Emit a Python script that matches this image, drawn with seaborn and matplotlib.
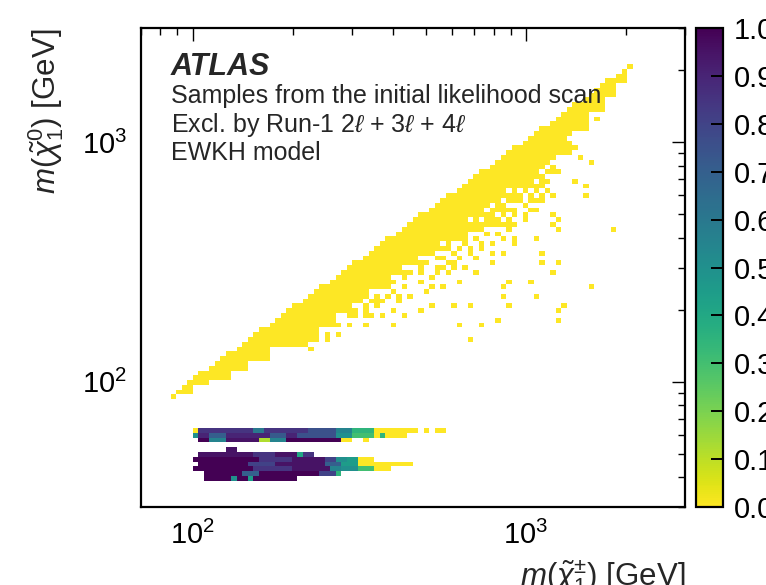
import numpy as np
import pandas as pd
import matplotlib
matplotlib.use("Agg")
import matplotlib.pyplot as plt
from matplotlib.ticker import NullFormatter, LogLocator
import seaborn as sns

# ------------------------------------------------------------------ data
# Dense diagonal wedge: lower edge of the filled yellow region (GeV),
# read at a set of chargino masses; its upper edge follows the diagonal.
band_mchi = [86, 95, 104.5, 120, 138, 158, 182, 209, 230, 257, 285, 316,
             360, 418, 465, 514, 570, 632, 700, 778, 860, 958, 1060, 1179,
             1310, 1451, 1610, 1786, 1920, 2060]
band_floor = [85, 89, 97, 104, 114, 120, 138, 142, 150, 165, 190, 220,
              245, 280, 305, 330, 360, 395, 430, 460, 510, 575, 650, 740,
              880, 1100, 1340, 1583, 1800, 1990]

# Empty cells (holes) inside the dense wedge (chargino, neutralino)
hole_mchi = [430, 480, 520, 560, 600, 650, 690, 720, 760, 800, 850, 900,
             950, 1000, 1050, 1100, 1150, 1200, 1250, 1300, 1350, 620, 740,
             880, 980, 1080]
hole_mlsp = [300, 330, 350, 380, 430, 440, 480, 470, 520, 540, 560, 620,
             640, 680, 700, 760, 800, 820, 900, 950, 1020, 400, 470,
             540, 610, 700]

# Lacy cells just below the dense wedge (chargino, neutralino)
lace_mchi = [230, 250, 250, 270, 270, 290, 290, 290, 305, 305, 305,
             330, 330, 330, 345, 345, 345, 360, 360, 375, 375, 375,
             390, 390, 405, 405, 405, 420, 420, 420, 440, 440, 440, 440,
             455, 455, 455, 475, 475, 475, 475, 495, 495, 495, 495,
             515, 515, 515, 535, 535, 535, 535, 555, 555, 555, 555,
             580, 580, 580, 580, 600, 600, 600, 600, 625, 625, 625, 625,
             650, 650, 650, 650, 675, 675, 675, 675, 700, 700, 700, 700,
             725, 725, 725, 750, 750, 750, 780, 780, 780, 810, 810, 810,
             840, 840, 840, 840, 870, 870, 870, 900, 900, 900, 930, 930,
             930, 960, 1000, 1000, 1000, 1040, 1040, 1080, 1080, 1120,
             1120, 1160, 1200, 1200, 1250, 1300, 1350,
             520, 540, 560, 560, 590, 590, 610, 610, 640, 640, 660, 660,
             690, 690, 710, 710, 740, 740, 760, 760, 790, 790, 820, 820,
             850, 850, 880, 880, 910, 910, 940, 940, 980, 980, 1020, 1020,
             1060, 1100, 1100, 1140, 1180, 1220, 1260]
lace_mlsp = [138, 150, 158, 160, 176, 170, 190, 205, 185, 200, 215,
             175, 200, 210, 190, 220, 250, 205, 230, 190, 215, 245,
             225, 255, 200, 240, 265, 215, 230, 285, 245, 270, 310, 325,
             225, 290, 335, 260, 280, 300, 355, 240, 320, 370, 385,
             270, 345, 390, 300, 330, 410, 430, 250, 360, 400, 450,
             280, 380, 420, 470, 320, 350, 440, 480, 260, 400, 460, 500,
             300, 380, 420, 520, 340, 450, 540, 565, 290, 400, 480, 590,
             360, 510, 600, 420, 460, 630, 310, 380, 530, 450, 570, 640,
             400, 500, 600, 670, 350, 540, 700, 450, 600, 730, 380, 520,
             650, 580, 500, 620, 700, 560, 680, 520, 720, 600,
             780, 680, 740, 800, 900, 950, 1000,
             250, 280, 300, 330, 310, 360, 300, 390, 330, 360, 400, 440,
             360, 430, 330, 460, 380, 500, 410, 540, 350, 450, 420, 480,
             460, 520, 430, 480, 400, 500, 450, 560, 480, 540, 520, 600,
             580, 560, 650, 640, 700, 600, 760]

# Isolated yellow cells further below the wedge (chargino, neutralino)
sparse_mchi = [205, 236, 251, 251, 270, 270, 295, 317, 329, 355, 368, 402,
               432, 489, 524, 611, 639, 680, 680, 732, 818, 875, 860, 860,
               882, 1043, 1074, 1061, 1074, 1101, 1129, 1231, 1231, 1246,
               1216, 1252, 1293, 1252, 1564, 1829, 1157, 1231, 1393, 1445,
               1393, 1500, 1500, 1557, 1616, 1740, 1806, 1152, 1229, 1201,
               1201]
sparse_mlsp = [160, 158, 201, 190, 209, 200, 193, 213, 193, 221, 193, 175,
               193, 196, 206, 203, 175, 209, 147, 173, 184, 266, 254, 231,
               206, 266, 231, 391, 614, 344, 308, 475, 431, 308,
               280, 200, 206, 178, 254, 424, 917, 756, 947, 860,
               676, 644, 594, 820, 1264, 1568, 1568, 888, 745, 490,
               460]

# Higgs-funnel strip: neutralino mass of each row and runs of
# (chargino from, chargino to, excluded fraction)
higgs_rows = [63.8, 60.8, 57.8]
higgs_runs = [
    [(100, 103.5, 0.0), (103.5, 150, 0.85), (150, 165, 0.6), (165, 225, 0.85),
     (225, 265, 0.75), (265, 305, 0.55), (305, 347, 0.35), (347, 452, 0.0),
     (458, 472, 0.0), (492, 512, 0.0), (528, 565, 0.0)],
    [(100, 104, 0.5), (104, 113, 0.9), (113, 127, 0.7), (127, 171, 0.9),
     (171, 190, 0.72), (190, 206, 0.9), (206, 265, 0.75), (265, 298, 0.5),
     (298, 347, 0.3), (347, 363, 0.0), (363, 376, 0.35), (376, 440, 0.0)],
    [(104, 113, 1.0), (113, 127, 0.55), (127, 160, 0.95), (160, 168, 0.12),
     (168, 188, 0.55), (188, 280, 1.0), (284, 296, 0.0), (322, 336, 0.0)],
]

# Z-funnel strip
z_rows = [52.2, 49.8, 47.5, 45.2, 43.1, 41.2, 39.5]
z_runs = [
    [(128, 135, 0.95)],
    [(104, 150, 0.95), (150, 175, 0.85), (175, 205, 0.95), (205, 215, 0.4),
     (215, 228, 0.85)],
    [(100, 160, 1.0), (160, 200, 0.85), (200, 250, 0.95), (250, 265, 0.8),
     (265, 285, 0.5), (285, 292, 0.15), (292, 310, 0.45), (310, 347, 0.0)],
    [(104, 145, 1.0), (145, 175, 0.8), (175, 250, 0.95), (250, 280, 0.7),
     (280, 310, 0.45), (310, 452, 0.0)],
    [(100, 150, 1.0), (150, 200, 0.85), (200, 260, 0.95), (260, 276, 0.55),
     (276, 312, 0.5), (312, 347, 0.3), (347, 390, 0.0)],
    [(107, 140, 1.0), (140, 160, 0.7), (160, 240, 1.0), (240, 270, 0.8),
     (270, 280, 0.35)],
    [(107, 130, 1.0), (130, 134, 0.5), (134, 145, 1.0), (145, 150, 0.45),
     (150, 205, 1.0)],
]

cbar_ticks = [0.0, 0.1, 0.2, 0.3, 0.4, 0.5, 0.6, 0.7, 0.8, 0.9, 1.0]

# ------------------------------------------------------------------ binning
x_edges = 2.0 + 0.0165 * np.arange(-10, 91)      # log10 GeV
y_edges = 1.4871 + 0.02 * np.arange(0, 101)      # log10 GeV
x_cent = 10 ** ((x_edges[:-1] + x_edges[1:]) / 2)
y_cent = 10 ** ((y_edges[:-1] + y_edges[1:]) / 2)

holes = set(zip(np.digitize(np.log10(hole_mchi), x_edges),
                np.digitize(np.log10(hole_mlsp), y_edges)))

recs = []
lm = np.log10(band_mchi)
for c in x_cent:
    if c < band_mchi[0] * 0.99 or c > band_mchi[-1] * 1.01:
        continue
    fl = band_floor[int(np.argmin(np.abs(lm - np.log10(c))))]
    ix = np.digitize(np.log10(c), x_edges)
    for yc in y_cent:
        if fl <= yc <= c * 1.03:
            if (ix, np.digitize(np.log10(yc), y_edges)) in holes:
                continue
            recs.append((c, yc, 0.0))

for mx, my in zip(lace_mchi + sparse_mchi, lace_mlsp + sparse_mlsp):
    recs.append((mx, my, 0.0))


def add_runs(rows, runs):
    for ry, rr in zip(rows, runs):
        for a, b, f in rr:
            for c in x_cent:
                if a <= c < b:
                    recs.append((c, ry, f))


add_runs(higgs_rows, higgs_runs)
add_runs(z_rows, z_runs)

df = pd.DataFrame(recs, columns=["mchi", "mlsp", "frac"])
df["w"] = df["frac"] + 1e-3

# ------------------------------------------------------------------ plot
sns.set_theme(style="white")
plt.rcParams["font.family"] = ["Liberation Sans", "DejaVu Sans"]
plt.rcParams["mathtext.fontset"] = "custom"
plt.rcParams["mathtext.rm"] = "Liberation Sans"
plt.rcParams["mathtext.it"] = "Liberation Sans:italic"
plt.rcParams["mathtext.bf"] = "Liberation Sans:bold"
plt.rcParams["axes.axisbelow"] = False

fig = plt.figure(figsize=(7.66, 5.85), dpi=100)
ax = fig.add_axes([0.1841, 0.1333, 0.7102, 0.8188])
cax = fig.add_axes([0.9086, 0.1333, 0.0352, 0.8188])

sns.histplot(data=df, x="mchi", y="mlsp", weights="w",
             bins=(x_edges, y_edges), log_scale=(True, True),
             cmap="viridis_r", vmin=0, vmax=1,
             cbar=True, cbar_ax=cax, cbar_kws=dict(ticks=cbar_ticks),
             ax=ax)

ax.set_axisbelow(False)
ax.set_xlim(70, 3000)
ax.set_ylim(30, 3000)
ax.xaxis.set_minor_formatter(NullFormatter())
ax.yaxis.set_minor_formatter(NullFormatter())
ax.xaxis.set_minor_locator(LogLocator(base=10, subs=np.arange(2, 10)))
ax.yaxis.set_minor_locator(LogLocator(base=10, subs=np.arange(2, 10)))
ax.tick_params(which="both", direction="in", top=True, right=True,
               colors="black", width=1.0, labelsize=21, pad=10)
ax.tick_params(which="major", length=9.5)
ax.tick_params(which="minor", length=4.8)
for s in ax.spines.values():
    s.set_linewidth(1.6)
    s.set_color("black")
    s.set_visible(True)

ax.set_xlabel(r"$m(\tilde{\chi}^{\pm}_{1})$ [GeV]", fontsize=22.5, loc="right")
ax.set_ylabel(r"$m(\tilde{\chi}^{0}_{1})$ [GeV]", fontsize=22.5, loc="top")
ax.xaxis.set_label_coords(1.0, -0.108)
ax.yaxis.set_label_coords(-0.138, 1.0)

ax.text(0.055, 0.902, "ATLAS", transform=ax.transAxes, fontsize=22,
        fontweight="bold", fontstyle="italic", va="baseline")
lines = ["Samples from the initial likelihood scan",
         r"Excl. by Run-1 2$\ell$ + 3$\ell$ + 4$\ell$",
         "EWKH model"]
for i, t in enumerate(lines):
    ax.text(0.055, 0.843 - 0.0593 * i, t, transform=ax.transAxes,
            fontsize=18, va="baseline")

mesh = ax.collections[0]
cb = mesh.colorbar
cb.outline.set_linewidth(1.6)
cb.outline.set_edgecolor("black")
cax.set_axisbelow(False)
cax.yaxis.set_ticks_position("right")
cax.set_yticks(cbar_ticks)
cax.set_yticklabels([f"{t:.1f}" for t in cbar_ticks])
cax.tick_params(axis="y", which="major", direction="in", length=9,
                width=1.4, labelsize=21, right=True, left=False,
                labelright=True, pad=8, colors="black")
cax.tick_params(axis="y", which="minor", length=0)

fig.savefig("out.png", dpi=100)
